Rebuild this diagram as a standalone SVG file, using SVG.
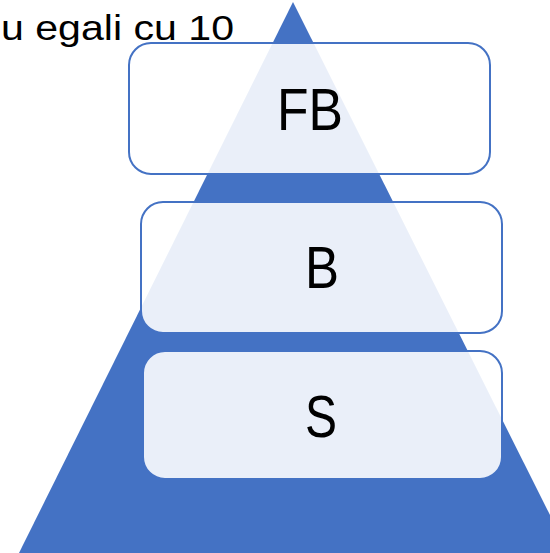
<svg xmlns="http://www.w3.org/2000/svg" width="550" height="553" viewBox="0 0 550 553">
<style>
.box{fill:#ffffff;fill-opacity:0.89;stroke:#4472C4;stroke-width:2}
.lbl{font-family:"Liberation Sans",Arial,sans-serif;font-size:60px;fill:#000;text-anchor:middle}
.top{font-family:"Liberation Sans",Arial,sans-serif;font-size:35px;fill:#000}
</style>
<rect width="550" height="553" fill="#ffffff"/>
<g id="pyramid"><polygon points="293,2 18,555 570,555" fill="#4472C4"/></g>
<text class="top" x="1" y="40" textLength="233" lengthAdjust="spacingAndGlyphs">u egali cu 10</text>
<g id="connectors"></g>
<g id="node-FB"><rect class="box" x="129" y="43" width="361" height="131" rx="22"/><text class="lbl" x="310" y="130" textLength="66" lengthAdjust="spacingAndGlyphs">FB</text></g>
<g id="node-B"><rect class="box" x="141" y="202" width="361" height="131" rx="22"/><text class="lbl" x="322" y="288" textLength="34" lengthAdjust="spacingAndGlyphs">B</text></g>
<g id="node-S"><rect class="box" x="143" y="351" width="359" height="128" rx="22"/><text class="lbl" x="321" y="437" textLength="32" lengthAdjust="spacingAndGlyphs">S</text></g>
</svg>
